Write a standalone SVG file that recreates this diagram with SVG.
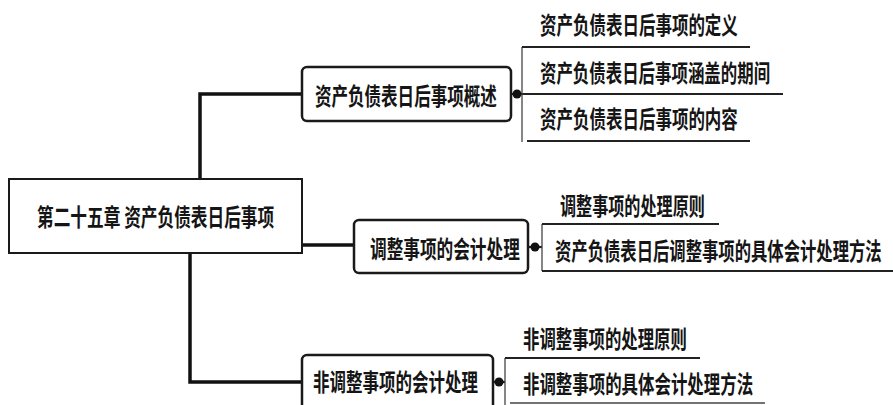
<svg xmlns="http://www.w3.org/2000/svg" width="893" height="405" viewBox="0 0 893 405">
<style>
text{font-family:"Noto Sans CJK SC","Noto Sans",sans-serif;font-size:24px;font-weight:bold;fill:#151515;dominant-baseline:central}
.root{fill:#fff;stroke:#1a1a1a;stroke-width:2}
.box{fill:#fff;stroke:#1a1a1a;stroke-width:2.5}
.conn{fill:none;stroke:#111;stroke-width:3.5}
.brk{fill:none;stroke:#444;stroke-width:1.3}
.ul{fill:none;stroke:#222;stroke-width:2.2}
.dot{fill:#111}
</style>
<rect width="893" height="405" fill="#fff"/>
<g id="connectors">
<path class="conn" d="M200,180 V94 H302"/>
<path class="conn" d="M302,245 H354"/>
<path class="conn" d="M190,252 V382 H302"/>
<path class="ul" d="M511,94 H783"/>
<path class="brk" d="M522,47 V142"/>
<path class="ul" d="M522,47 H750"/>
<path class="ul" d="M527,141 H750"/>
<path class="ul" d="M528,247 H542"/>
<path class="brk" d="M542,224 V271"/>
<path class="ul" d="M542,224 H719"/>
<path class="ul" d="M542,271 H893"/>
<path class="ul" d="M493,382 H505"/>
<path class="brk" d="M505,358 V405"/>
<path class="ul" d="M505,358 H700"/>
<path class="brk" d="M510,403 H765"/>
<circle class="dot" cx="517" cy="94" r="4.5"/>
<circle class="dot" cx="535" cy="247" r="4.5"/>
<circle class="dot" cx="499" cy="382" r="4.5"/>
</g>
<g id="root">
<rect class="root" x="9" y="179" width="293" height="74"/>
<text transform="translate(37,216) scale(0.695,1)">第二十五章 资产负债表日后事项</text>
</g>
<g id="n1">
<rect class="box" x="302" y="67" width="209" height="54" rx="5"/>
<text transform="translate(315,95) scale(0.689,1)">资产负债表日后事项概述</text>
</g>
<g id="n1a"><text transform="translate(540,24) scale(0.6875,1)">资产负债表日后事项的定义</text></g>
<g id="n1b"><text transform="translate(540,71) scale(0.685,1)">资产负债表日后事项涵盖的期间</text></g>
<g id="n1c"><text transform="translate(540,118) scale(0.6875,1)">资产负债表日后事项的内容</text></g>
<g id="n2">
<rect class="box" x="354" y="220" width="174" height="53" rx="5"/>
<text transform="translate(370,248) scale(0.694,1)">调整事项的会计处理</text>
</g>
<g id="n2a"><text transform="translate(560,204) scale(0.671,1)">调整事项的处理原则</text></g>
<g id="n2b"><text transform="translate(555,249) scale(0.681,1)">资产负债表日后调整事项的具体会计处理方法</text></g>
<g id="n3">
<rect class="box" x="302" y="355" width="191" height="56" rx="5"/>
<text transform="translate(313,381) scale(0.6875,1)">非调整事项的会计处理</text>
</g>
<g id="n3a"><text transform="translate(523,337) scale(0.683,1)">非调整事项的处理原则</text></g>
<g id="n3b"><text transform="translate(523,382) scale(0.685,1)">非调整事项的具体会计处理方法</text></g>
</svg>
